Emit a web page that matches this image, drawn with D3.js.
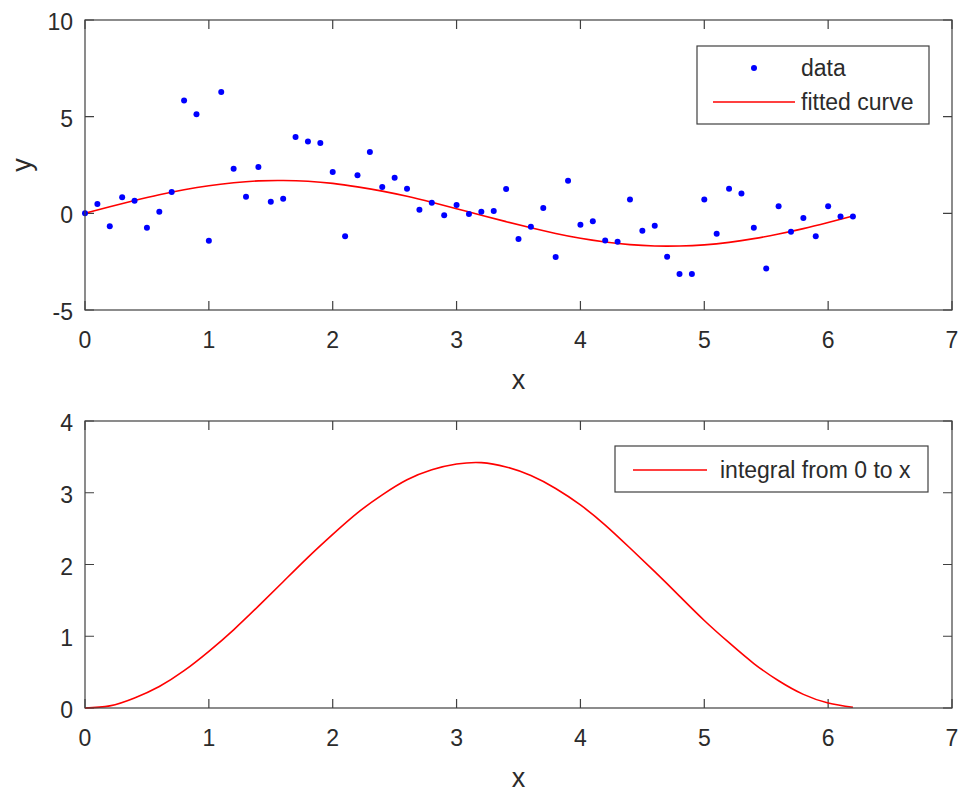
<!DOCTYPE html>
<html>
<head>
<meta charset="utf-8">
<script src="https://cdn.jsdelivr.net/npm/d3@7"></script>
<style>
  html, body { margin: 0; padding: 0; background: #fff; }
  text { font-family: "Liberation Sans", Arial, sans-serif; fill: #2b2b2b; }
</style>
</head>
<body>
<svg id="chart" width="964" height="792"></svg>
<script>
// measured points (x, y)
const xData = [0.0, 0.1, 0.2, 0.3, 0.4, 0.5, 0.6, 0.7, 0.8, 0.9,
  1.0, 1.1, 1.2, 1.3, 1.4, 1.5, 1.6, 1.7, 1.8, 1.9,
  2.0, 2.1, 2.2, 2.3, 2.4, 2.5, 2.6, 2.7, 2.8, 2.9,
  3.0, 3.1, 3.2, 3.3, 3.4, 3.5, 3.6, 3.7, 3.8, 3.9,
  4.0, 4.1, 4.2, 4.3, 4.4, 4.5, 4.6, 4.7, 4.8, 4.9,
  5.0, 5.1, 5.2, 5.3, 5.4, 5.5, 5.6, 5.7, 5.8, 5.9,
  6.0, 6.1, 6.2];
const yData = [0.00, 0.48, -0.67, 0.83, 0.65, -0.74, 0.08, 1.10, 5.83, 5.12,
  -1.42, 6.27, 2.31, 0.86, 2.40, 0.60, 0.76, 3.95, 3.72, 3.64,
  2.14, -1.19, 1.97, 3.17, 1.36, 1.84, 1.27, 0.19, 0.55, -0.10,
  0.43, -0.04, 0.08, 0.12, 1.26, -1.33, -0.69, 0.27, -2.26, 1.69,
  -0.59, -0.41, -1.40, -1.47, 0.72, -0.90, -0.64, -2.24, -3.14, -3.14,
  0.72, -1.05, 1.27, 1.03, -0.74, -2.85, 0.36, -0.95, -0.24, -1.19,
  0.36, -0.17, -0.17];

// curves every 0.2
const xCurve = [0.0, 0.2, 0.4, 0.6, 0.8, 1.0, 1.2, 1.4, 1.6, 1.8,
  2.0, 2.2, 2.4, 2.6, 2.8, 3.0, 3.2, 3.4, 3.6, 3.8,
  4.0, 4.2, 4.4, 4.6, 4.8, 5.0, 5.2, 5.4, 5.6, 5.8,
  6.0, 6.2];
const yFit = [0.00, 0.34, 0.66, 0.96, 1.22, 1.43, 1.58, 1.68, 1.70, 1.66,
  1.55, 1.37, 1.15, 0.88, 0.57, 0.24, -0.10, -0.43, -0.75, -1.04,
  -1.29, -1.48, -1.62, -1.69, -1.69, -1.63, -1.50, -1.31, -1.07, -0.79,
  -0.47, -0.14];
const yIntegral = [0.00, 0.03, 0.14, 0.30, 0.52, 0.79, 1.09, 1.42, 1.76, 2.10,
  2.42, 2.72, 2.97, 3.18, 3.32, 3.40, 3.42, 3.36, 3.24, 3.06,
  2.83, 2.55, 2.23, 1.90, 1.56, 1.22, 0.91, 0.62, 0.38, 0.19,
  0.07, 0.01];

const xTicks = [0, 1, 2, 3, 4, 5, 6, 7];
const yTicksTop = [-5, 0, 5, 10];
const yTicksBottom = [0, 1, 2, 3, 4];

const svg = d3.select('#chart');
const axisColor = '#404040';
const tickFont = 23;

// draws one boxed axes with ticks on all four sides
function drawAxes(box, yDomain, yTicks, yLabel) {
  const x = d3.scaleLinear().domain([0, 7]).range([box.left, box.right]);
  const y = d3.scaleLinear().domain(yDomain).range([box.bottom, box.top]);
  const g = svg.append('g');
  const tl = 9;

  g.selectAll('.xt').data(xTicks).join('path')
    .attr('d', d => `M${x(d)},${box.bottom}v${-tl}M${x(d)},${box.top}v${tl}`)
    .attr('stroke', axisColor).attr('stroke-width', 1.2);
  g.selectAll('.yt').data(yTicks).join('path')
    .attr('d', d => `M${box.left},${y(d)}h${tl}M${box.right},${y(d)}h${-tl}`)
    .attr('stroke', axisColor).attr('stroke-width', 1.2);

  g.selectAll('.xl').data(xTicks).join('text')
    .attr('x', d => x(d)).attr('y', box.bottom + 38)
    .attr('text-anchor', 'middle').attr('font-size', tickFont)
    .text(d => d);
  g.selectAll('.yl').data(yTicks).join('text')
    .attr('x', box.left - 12).attr('y', d => y(d) + 10)
    .attr('text-anchor', 'end').attr('font-size', tickFont)
    .text(d => d);

  g.append('text')
    .attr('x', (box.left + box.right) / 2).attr('y', box.bottom + 79)
    .attr('text-anchor', 'middle').attr('font-size', 27)
    .text('x');
  if (yLabel) {
    g.append('text')
      .attr('transform', `translate(31,${(box.top + box.bottom) / 2}) rotate(-90)`)
      .attr('text-anchor', 'middle').attr('font-size', 27)
      .text(yLabel);
  }
  return { x, y, g };
}

function drawBorder(box) {
  svg.append('rect')
    .attr('x', box.left).attr('y', box.top)
    .attr('width', box.right - box.left).attr('height', box.bottom - box.top)
    .attr('fill', 'none').attr('stroke', axisColor).attr('stroke-width', 1.2);
}

// ---- top plot ----
const topBox = { left: 85, right: 952, top: 20, bottom: 310 };
const topAx = drawAxes(topBox, [-5, 10], yTicksTop, 'y');
const pts = xData.map((d, i) => ({ x: d, y: yData[i] }));

const fitLine = d3.line()
  .x((d, i) => topAx.x(xCurve[i]))
  .y(d => topAx.y(d))
  .curve(d3.curveNatural);

svg.append('path').datum(yFit)
  .attr('d', fitLine)
  .attr('fill', 'none').attr('stroke', '#ff0000').attr('stroke-width', 1.6);

svg.selectAll('.dot').data(pts).join('circle')
  .attr('cx', d => topAx.x(d.x)).attr('cy', d => topAx.y(d.y))
  .attr('r', 3).attr('fill', '#0000ff');
drawBorder(topBox);

// legend top
const lg1 = svg.append('g');
lg1.append('rect').attr('x', 697).attr('y', 46).attr('width', 232).attr('height', 78)
  .attr('fill', '#fff').attr('stroke', axisColor).attr('stroke-width', 1.2);
lg1.append('circle').attr('cx', 754).attr('cy', 68).attr('r', 3).attr('fill', '#0000ff');
lg1.append('text').attr('x', 801).attr('y', 76).attr('font-size', tickFont).text('data');
lg1.append('line').attr('x1', 713).attr('x2', 795).attr('y1', 102).attr('y2', 102)
  .attr('stroke', '#ff0000').attr('stroke-width', 1.6);
lg1.append('text').attr('x', 801).attr('y', 110).attr('font-size', tickFont).text('fitted curve');

// ---- bottom plot ----
const botBox = { left: 85, right: 952, top: 421, bottom: 708 };
const botAx = drawAxes(botBox, [0, 4], yTicksBottom, null);

const intLine = d3.line()
  .x((d, i) => botAx.x(xCurve[i]))
  .y(d => botAx.y(d))
  .curve(d3.curveNatural);

svg.append('path').datum(yIntegral)
  .attr('d', intLine)
  .attr('fill', 'none').attr('stroke', '#ff0000').attr('stroke-width', 1.6);
drawBorder(botBox);

const lg2 = svg.append('g');
lg2.append('rect').attr('x', 615).attr('y', 446).attr('width', 313).attr('height', 46)
  .attr('fill', '#fff').attr('stroke', axisColor).attr('stroke-width', 1.2);
lg2.append('line').attr('x1', 633).attr('x2', 707).attr('y1', 470).attr('y2', 470)
  .attr('stroke', '#ff0000').attr('stroke-width', 1.6);
lg2.append('text').attr('x', 720).attr('y', 478).attr('font-size', tickFont).text('integral from 0 to x');
</script>
</body>
</html>
